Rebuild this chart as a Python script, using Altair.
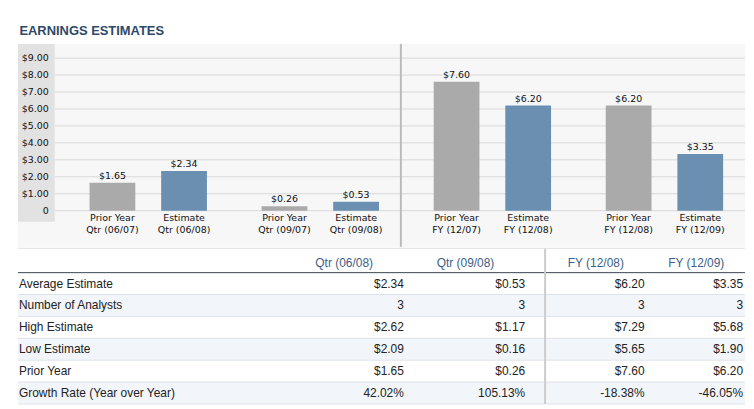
import altair as alt
import pandas as pd

# ---------------- data ----------------
periods = ["Qtr (06/08)", "Qtr (09/08)", "FY (12/08)", "FY (12/09)"]
prior_periods = ["Qtr (06/07)", "Qtr (09/07)", "FY (12/07)", "FY (12/08)"]
series = ["Prior Year", "Estimate"]
prior_values = [1.65, 0.26, 7.60, 6.20]
estimate_values = [2.34, 0.53, 6.20, 3.35]
y_ticks = [0, 1, 2, 3, 4, 5, 6, 7, 8, 9]

row_labels = ["Average Estimate", "Number of Analysts", "High Estimate",
              "Low Estimate", "Prior Year", "Growth Rate (Year over Year)"]
avg_estimate = [2.34, 0.53, 6.20, 3.35]
num_analysts = [3, 3, 3, 3]
high_estimate = [2.62, 1.17, 7.29, 5.68]
low_estimate = [2.09, 0.16, 5.65, 1.90]
prior_year = [1.65, 0.26, 7.60, 6.20]
growth_rate = [42.02, 105.13, -18.38, -46.05]

# ---------------- tables ----------------
bar_rows = []
for i, p in enumerate(periods):
    bar_rows.append({"period": p, "series": "Prior Year", "value": prior_values[i],
                     "vlabel": f"${prior_values[i]:.2f}",
                     "label": f"Prior Year\n{prior_periods[i]}"})
    bar_rows.append({"period": p, "series": "Estimate", "value": estimate_values[i],
                     "vlabel": f"${estimate_values[i]:.2f}",
                     "label": f"Estimate\n{p}"})
bars_df = pd.DataFrame(bar_rows)
ticks_df = pd.DataFrame({"tick": y_ticks,
                         "text": ["0" if t == 0 else f"${t:.2f}" for t in y_ticks]})
one = pd.DataFrame({"k": [0]})

money = lambda v: f"${v:.2f}"
count = lambda v: f"{v:d}"
pct = lambda v: f"{v:.2f}%"
table_series = [(avg_estimate, money), (num_analysts, count), (high_estimate, money),
                (low_estimate, money), (prior_year, money), (growth_rate, pct)]
cells = []
for r, (vals, fmt) in enumerate(table_series):
    for c, v in enumerate(vals):
        cells.append({"row": row_labels[r], "col": c, "text": fmt(v)})
cells_df = pd.DataFrame(cells)
rows_df = pd.DataFrame({"row": row_labels, "shade": [i % 2 for i in range(len(row_labels))]})
header_df = pd.DataFrame({"col": list(range(len(periods))), "period": periods})

# ---------------- bar chart ----------------
W = 731
H1 = 204
FONT_C = "DejaVu Sans"
yscale = alt.Scale(domain=[-2.13, 9.84], nice=False, zero=False)
xscale = alt.Scale(type="band", domain=periods, range=[44.5, 736.5],
                   paddingInner=0, paddingOuter=0)
xoff = alt.Scale(type="band", domain=series, paddingInner=0, paddingOuter=0.2014)
X = alt.X("period:N", scale=xscale, axis=None)
XO = alt.XOffset("series:N", scale=xoff)

grid = alt.Chart(ticks_df).mark_rule(color="#d9d9d9", strokeWidth=1).encode(
    y=alt.Y("tick:Q", scale=yscale, axis=None),
    x=alt.value(37), x2=alt.value(W))

band = alt.Chart(one).mark_rect(color="#e2e2e2").encode(
    x=alt.value(0), x2=alt.value(37),
    y=alt.datum(9.84, scale=yscale, axis=None), y2=alt.datum(-0.66))

tick_labels = alt.Chart(ticks_df).mark_text(
    align="right", baseline="middle", font=FONT_C, fontSize=9.5, color="#111111"
).encode(y=alt.Y("tick:Q", scale=yscale, axis=None), x=alt.value(31), text="text:N")

bars = alt.Chart(bars_df).mark_bar(width=46).encode(
    x=X, xOffset=XO,
    y=alt.Y("value:Q", scale=yscale, axis=None), y2=alt.datum(0),
    color=alt.Color("series:N", scale=alt.Scale(domain=series, range=["#aaaaaa", "#6a8fb1"]),
                    legend=None))

value_labels = alt.Chart(bars_df).mark_text(
    baseline="alphabetic", dy=-4, font=FONT_C, fontSize=9.5, color="#111111"
).encode(x=X, xOffset=XO, y=alt.Y("value:Q", scale=yscale, axis=None), text="vlabel:N")

cat_labels = alt.Chart(bars_df).mark_text(
    baseline="alphabetic", lineBreak="\n", lineHeight=12, dy=10,
    font=FONT_C, fontSize=9.5, color="#111111"
).encode(x=X, xOffset=XO, y=alt.datum(0, scale=yscale, axis=None), text="label:N")

divider = alt.Chart(one).mark_rule(color="#bbbbbb", strokeWidth=2).encode(
    x=alt.value(385), y=alt.value(0), y2=alt.value(H1))

bar_chart = alt.layer(grid, band, tick_labels, bars, value_labels, cat_labels, divider).properties(
    width=W, height=H1, view=alt.ViewBackground(fill="#f7f7f7", stroke=None))

# ---------------- table ----------------
H2 = 158
FONT_T = "Liberation Sans"
rowscale = alt.Scale(type="band", domain=row_labels, range=[25, 157],
                     paddingInner=0, paddingOuter=0)
RY = alt.Y("row:N", scale=rowscale, axis=None)

row_bg = alt.Chart(rows_df).mark_rect().encode(
    y=RY, x=alt.value(0), x2=alt.value(W),
    color=alt.condition("datum.shade == 1", alt.value("#f2f6fa"), alt.value("#ffffff")))
row_lines = alt.Chart(rows_df).mark_rule(color="#dde3ea").encode(
    y=alt.Y("row:N", scale=rowscale, axis=None, bandPosition=1),
    x=alt.value(0), x2=alt.value(W))
top_line = alt.Chart(one).mark_rule(color="#dddddd").encode(
    x=alt.value(0), x2=alt.value(W), y=alt.value(0.5))
head_line = alt.Chart(one).mark_rule(color="#3a4552").encode(
    x=alt.value(0), x2=alt.value(W), y=alt.value(25))
col_sep = alt.Chart(one).mark_rule(color="#cccccc", strokeWidth=2).encode(
    x=alt.value(530), y=alt.value(1), y2=alt.value(157))
row_text = alt.Chart(rows_df).mark_text(
    align="left", baseline="middle", font=FONT_T, fontSize=12, color="#222222"
).encode(y=RY, x=alt.value(1), text="row:N")
cell_text = alt.Chart(cells_df).mark_text(
    align="right", baseline="middle", font=FONT_T, fontSize=12, color="#222222"
).encode(
    y=RY,
    x=alt.X("col:Q", scale=alt.Scale(domain=[0, 1, 2, 3], range=[388, 510, 630, 729],
                                     nice=False, zero=False), axis=None),
    text="text:N")
head_text = alt.Chart(header_df).mark_text(
    align="center", baseline="middle", font=FONT_T, fontSize=12, color="#3e5f86"
).encode(
    x=alt.X("col:Q", scale=alt.Scale(domain=[0, 1, 2, 3], range=[328, 450, 581, 682],
                                     nice=False, zero=False), axis=None),
    y=alt.value(15), text="period:N")

table = alt.layer(row_bg, row_lines, top_line, head_line, col_sep, row_text,
                  cell_text, head_text).resolve_scale(x="independent").properties(
    width=W, height=H2, view=alt.ViewBackground(fill="#ffffff", stroke=None))

chart = alt.vconcat(bar_chart, table, spacing=0).properties(
    title=alt.TitleParams("EARNINGS ESTIMATES", anchor="start", font=FONT_T, fontSize=13,
                          fontWeight="bold", color="#2e4868", offset=5, dx=2),
    padding={"left": 9, "top": 16, "right": 0, "bottom": 0},
    background="#ffffff",
).configure_view(stroke=None)

chart.save("out.html", embed_options={"renderer": "svg", "actions": False})
